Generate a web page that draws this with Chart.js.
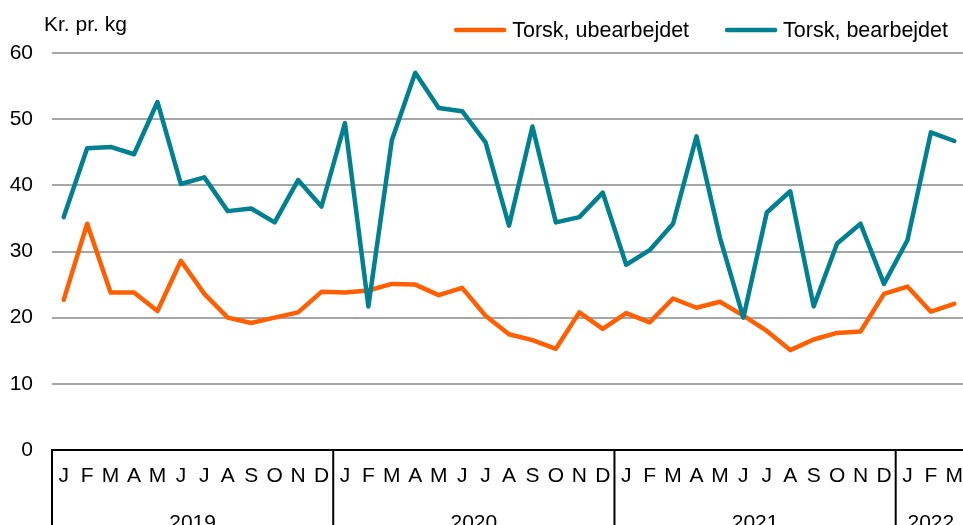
<!DOCTYPE html>
<html>
<head>
<meta charset="utf-8">
<script src="https://cdn.jsdelivr.net/npm/chart.js@4"></script>
<style>
  html, body { margin: 0; padding: 0; overflow: hidden; background: #fff; }
  #wrap { width: 966px; height: 525px; }
</style>
</head>
<body>
<div id="wrap"><canvas id="chart"></canvas></div>
<script>
// months Jan 2019 - Mar 2022
const monthLetters = ['J','F','M','A','M','J','J','A','S','O','N','D',
                      'J','F','M','A','M','J','J','A','S','O','N','D',
                      'J','F','M','A','M','J','J','A','S','O','N','D',
                      'J','F','M'];
const years = ['2019', '2020', '2021', '2022'];
const monthsPerYear = [12, 12, 12, 3];

const ubearbejdet = [22.7, 34.2, 23.8, 23.8, 21.0, 28.6, 23.6, 20.0, 19.2, 20.0, 20.8, 23.9,
                     23.8, 24.1, 25.1, 25.0, 23.4, 24.5, 20.3, 17.5, 16.6, 15.3, 20.8, 18.3,
                     20.7, 19.3, 22.9, 21.5, 22.4, 20.3, 18.0, 15.1, 16.7, 17.7, 17.9, 23.6,
                     24.7, 20.9, 22.1];
const bearbejdet = [35.2, 45.6, 45.8, 44.7, 52.6, 40.2, 41.2, 36.1, 36.5, 34.4, 40.8, 36.8,
                    49.4, 21.7, 46.8, 57.0, 51.7, 51.2, 46.5, 33.9, 48.9, 34.4, 35.2, 38.9,
                    28.0, 30.2, 34.2, 47.4, 32.1, 20.0, 35.9, 39.1, 21.7, 31.2, 34.2, 25.1,
                    31.7, 48.0, 46.7];

const yTicks = [0, 10, 20, 30, 40, 50, 60];
const unitLabel = 'Kr. pr. kg';

const FONT = '"Liberation Sans", Arial, sans-serif';
const ORANGE = '#ff5f00';
const TEAL = '#008091';

// legend, unit label, year row and separators
const extrasPlugin = {
    id: 'extras',
    afterDraw(chart) {
        const ctx = chart.ctx;
        const area = chart.chartArea;
        const x = chart.scales.x;
        ctx.save();
        ctx.fillStyle = '#000';

        // unit label top left
        ctx.font = '21px ' + FONT;
        ctx.textAlign = 'left';
        ctx.textBaseline = 'alphabetic';
        ctx.fillText(unitLabel, 44, 31);

        // legend, laid out from the right
        ctx.font = '21.5px ' + FONT;
        let right = 948;
        const items = chart.data.datasets.slice().reverse();
        items.forEach(ds => {
            const w = ctx.measureText(ds.label).width;
            const textX = right - w;
            ctx.fillStyle = '#000';
            ctx.textAlign = 'left';
            ctx.fillText(ds.label, textX, 37);
            ctx.strokeStyle = ds.borderColor;
            ctx.lineWidth = 4.5;
            ctx.lineCap = 'round';
            ctx.beginPath();
            ctx.moveTo(textX - 56, 30);
            ctx.lineTo(textX - 8, 30);
            ctx.stroke();
            right = textX - 58 - 36;
        });

        // year separators and labels
        ctx.font = '21px ' + FONT;
        ctx.strokeStyle = '#000';
        ctx.lineWidth = 2;
        ctx.lineCap = 'butt';
        ctx.textAlign = 'center';
        ctx.fillStyle = '#000';
        const step = x.getPixelForValue(1) - x.getPixelForValue(0);
        let start = 0;
        years.forEach((yr, i) => {
            const end = start + monthsPerYear[i] - 1;
            const x0 = x.getPixelForValue(start) - step / 2;
            const x1 = x.getPixelForValue(end) + step / 2;
            ctx.beginPath();
            ctx.moveTo(x0, area.bottom);
            ctx.lineTo(x0, chart.height);
            ctx.stroke();
            ctx.fillText(yr, (x0 + x1) / 2, 529);
            start = end + 1;
        });
        ctx.restore();
    }
};

var ctx = document.getElementById('chart').getContext('2d');
const torskChart = new Chart(ctx, {
    type: 'line',
    data: {
        labels: monthLetters,
        datasets: [
            {
                label: 'Torsk, ubearbejdet', //orange
                data: ubearbejdet,
                borderColor: ORANGE,
                backgroundColor: ORANGE,
                borderWidth: 4.5,
                borderJoinStyle: 'round',
                borderCapStyle: 'round',
                pointRadius: 0,
                tension: 0,
                order: 1
            },
            {
                label: 'Torsk, bearbejdet', //teal
                data: bearbejdet,
                borderColor: TEAL,
                backgroundColor: TEAL,
                borderWidth: 4.5,
                borderJoinStyle: 'round',
                borderCapStyle: 'round',
                pointRadius: 0,
                tension: 0,
                order: 0
            }
        ]
    },
    options: {
        responsive: true,
        maintainAspectRatio: false,
        animation: false,
        layout: { padding: { top: 53, left: 0, right: 0, bottom: 0 } },
        plugins: {
            legend: { display: false },
            tooltip: { enabled: false }
        },
        scales: {
            x: {
                offset: true,
                grid: {
                    display: true,
                    color: 'rgba(0,0,0,0)',
                    drawTicks: true,
                    tickLength: 14,
                    tickColor: 'rgba(0,0,0,0)'
                },
                border: { display: true, color: '#000', width: 2 },
                ticks: {
                    color: '#000',
                    font: { family: FONT, size: 21 },
                    padding: 0,
                    maxRotation: 0,
                    autoSkip: false
                },
                afterFit(scale) { scale.height = 75; }
            },
            y: {
                min: yTicks[0],
                max: yTicks[yTicks.length - 1],
                afterBuildTicks(scale) { scale.ticks = yTicks.map(v => ({ value: v })); },
                grid: {
                    color: c => c.tick && c.tick.value === 0 ? 'rgba(0,0,0,0)' : '#a6a6a6',
                    lineWidth: 2,
                    drawTicks: false
                },
                border: { display: false },
                ticks: {
                    color: '#000',
                    font: { family: FONT, size: 21 },
                    padding: 19
                },
                afterFit(scale) { scale.width = 52; }
            }
        }
    },
    plugins: [extrasPlugin]
});
</script>
</body>
</html>
